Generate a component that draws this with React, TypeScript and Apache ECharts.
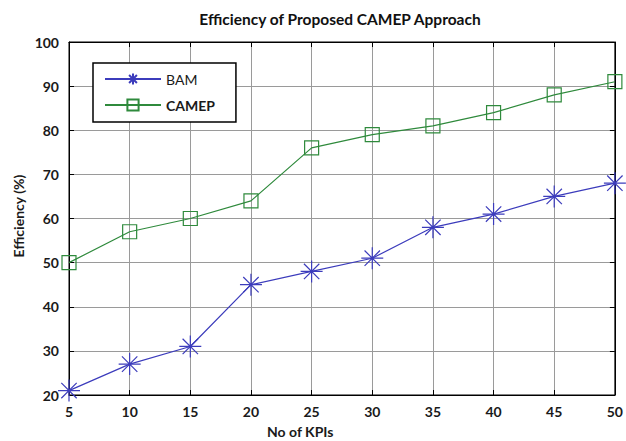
import React, { useEffect, useRef } from "react";
import * as echarts from "echarts";

const kpis = [5, 10, 15, 20, 25, 30, 35, 40, 45, 50];
const bamValues = [21, 27, 31, 45, 48, 51, 58, 61, 65, 68];
const camepValues = [50, 57, 60, 64, 76, 79, 81, 84, 88, 91];
const seriesNames = ["BAM", "CAMEP"];
const titleText = "Efficiency of Proposed CAMEP Approach";
const xName = "No of KPIs";
const yName = "Efficiency (%)";

const FONT = "Lato, 'Open Sans', sans-serif";
const BLUE = "#3c3cbc";
const GREEN = "#2f8a3c";
const STAR = "path://M0,-10L0,10M-10,0L10,0M-7,-7L7,7M-7,7L7,-7";

export default function App() {
  const ref = useRef<HTMLDivElement>(null);
  useEffect(() => {
    if (!ref.current) return;
    const chart = echarts.init(ref.current, undefined, { renderer: "svg" });
    const toPairs = (vals: number[]) => kpis.map((k, i) => [k, vals[i]]);
    const axisLabel = { color: "#1a1a1a", fontFamily: FONT, fontWeight: "bold" as const, fontSize: 14 };
    chart.setOption({
      animation: false,
      backgroundColor: "#fff",
      title: {
        text: titleText,
        left: 335,
        textAlign: "center",
        top: 6,
        textStyle: { fontFamily: FONT, fontWeight: "bold", fontSize: 15.5, color: "#111" },
      },
      grid: { left: 69, right: 7, top: 42, bottom: 46, show: true, borderColor: "#000", borderWidth: 1, backgroundColor: "transparent" },
      legend: {
        orient: "vertical",
        left: 93,
        top: 63,
        padding: [9, 21, 10, 11],
        itemWidth: 56,
        itemHeight: 14,
        itemGap: 12,
        backgroundColor: "#fff",
        borderColor: "#000",
        borderWidth: 1.5,
        data: seriesNames,
        formatter: (name: string) => (name === "CAMEP" ? `{b|${name}}` : `{n|${name}}`),
        textStyle: {
          fontFamily: FONT,
          fontSize: 14,
          color: "#1a1a1a",
          rich: {
            b: { fontFamily: FONT, fontSize: 14, fontWeight: "bold", color: "#1a1a1a" },
            n: { fontFamily: FONT, fontSize: 14, color: "#1a1a1a" },
          },
        },
      },
      xAxis: [
        {
          type: "value",
          min: 5,
          max: 50,
          interval: 5,
          axisLine: { show: true, lineStyle: { color: "#000" } },
          axisTick: { show: true, inside: true, length: 5, lineStyle: { color: "#000" } },
          axisLabel: { ...axisLabel, margin: 9 },
          splitLine: { show: true, lineStyle: { color: "#9a9a9a", width: 1 } },
        },
        {
          type: "value",
          position: "top",
          min: 5,
          max: 50,
          interval: 5,
          axisLine: { show: true, lineStyle: { color: "#000" } },
          axisTick: { show: true, inside: true, length: 5, lineStyle: { color: "#000" } },
          axisLabel: { show: false },
          splitLine: { show: false },
        },
      ],
      yAxis: [
        {
          type: "value",
          min: 20,
          max: 100,
          interval: 10,
          axisLine: { show: true, lineStyle: { color: "#000" } },
          axisTick: { show: true, inside: true, length: 5, lineStyle: { color: "#000" } },
          axisLabel: { ...axisLabel, margin: 10 },
          splitLine: { show: true, lineStyle: { color: "#9a9a9a", width: 1 } },
        },
        {
          type: "value",
          position: "right",
          min: 20,
          max: 100,
          interval: 10,
          axisLine: { show: true, lineStyle: { color: "#000" } },
          axisTick: { show: true, inside: true, length: 5, lineStyle: { color: "#000" } },
          axisLabel: { show: false },
          splitLine: { show: false },
        },
      ],
      graphic: [
        {
          type: "text",
          left: 267,
          top: 424,
          style: { text: xName, fontFamily: FONT, fontWeight: "bold", fontSize: 14, fill: "#1a1a1a" },
        },
        {
          type: "text",
          x: 11,
          y: 216,
          rotation: Math.PI / 2,
          style: {
            text: yName,
            fontFamily: FONT,
            fontWeight: "bold",
            fontSize: 14,
            fill: "#1a1a1a",
            align: "center",
            verticalAlign: "top",
          },
        },
      ],
      series: [
        {
          name: seriesNames[0],
          type: "line",
          data: toPairs(bamValues),
          symbol: STAR,
          symbolSize: 22,
          lineStyle: { color: BLUE, width: 1.2 },
          itemStyle: { color: "rgba(0,0,0,0)", borderColor: BLUE, borderWidth: 1.2 },
          z: 3,
        },
        {
          name: seriesNames[1],
          type: "line",
          data: toPairs(camepValues),
          symbol: "rect",
          symbolSize: 14,
          lineStyle: { color: GREEN, width: 1.2 },
          itemStyle: { color: "rgba(0,0,0,0)", borderColor: GREEN, borderWidth: 1.2 },
          z: 3,
        },
      ],
    });
    return () => chart.dispose();
  }, []);
  return <div ref={ref} style={{ width: 626, height: 441, position: "absolute", left: 0, top: 0 }} />;
}
